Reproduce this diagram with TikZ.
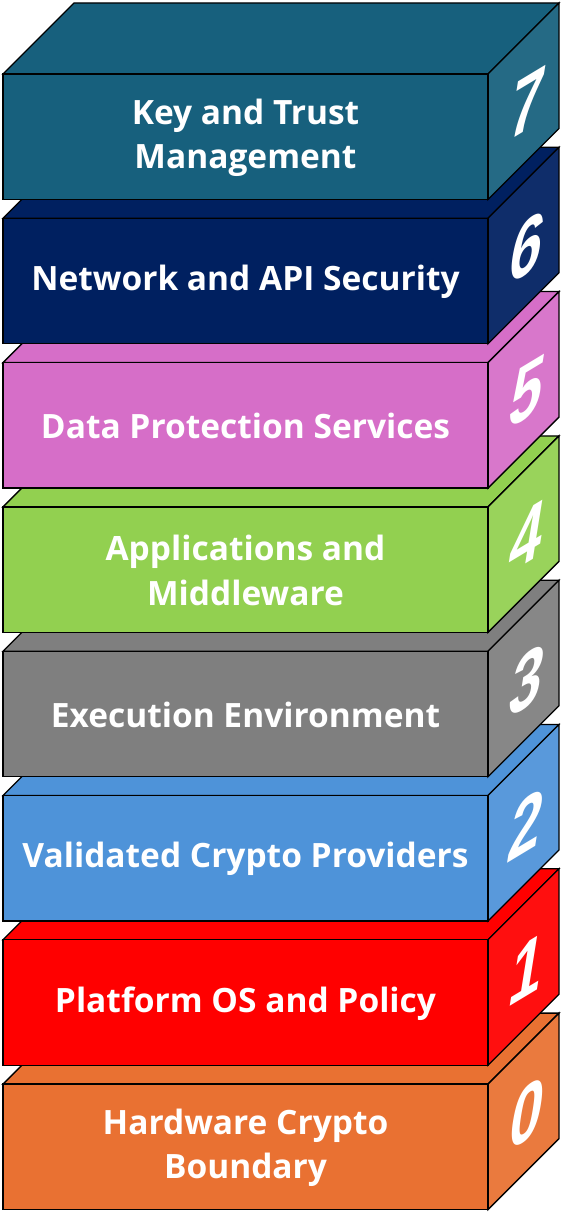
\documentclass[tikz,border=0pt]{standalone}
\usepackage{fontspec}
\setmainfont{Open Sans}
\setsansfont{Liberation Sans}
\definecolor{c7}{HTML}{17607D}
\definecolor{c6}{HTML}{002060}
\definecolor{c5}{HTML}{D66EC8}
\definecolor{c4}{HTML}{92D050}
\definecolor{c3}{HTML}{7F7F7F}
\definecolor{c2}{HTML}{4E93D9}
\definecolor{c1}{HTML}{FF0000}
\definecolor{c0}{HTML}{E97132}
\tikzset{
  face/.style={draw=black, line width=1.3pt, line join=miter},
  lbl/.style={text=white, font=\fontsize{33.5}{44.5}\selectfont\bfseries, align=center, inner sep=0pt},
  num/.style={text=white, font=\fontsize{86}{86}\selectfont\sffamily\bfseries, inner sep=0pt, transform shape}
}
\begin{document}
\begin{tikzpicture}[x=1pt,y=-1pt]
\useasboundingbox (0,0) rectangle (562,1214);
\def\L{3}
\def\R{488}
\def\D{71}
\def\H{125.5}
\foreach \k/\col/\txt in {
  0/c0/{Hardware Crypto\\Boundary},
  1/c1/{Platform OS and Policy},
  2/c2/{Validated Crypto Providers},
  3/c3/{Execution Environment},
  4/c4/{Applications and\\Middleware},
  5/c5/{Data Protection Services},
  6/c6/{Network and API Security},
  7/c7/{Key and Trust\\Management}} {
  \pgfmathsetmacro\T{74+(7-\k)*144.3}
  \pgfmathsetmacro\B{\T+\H}
  % top face
  \filldraw[face, fill=\col] (\L,\T) -- (\L+\D,\T-\D) -- (\R+\D,\T-\D) -- (\R,\T) -- cycle;
  % side face
  \filldraw[face, fill=\col!94!white] (\R,\T) -- (\R+\D,\T-\D) -- (\R+\D,\B-\D) -- (\R,\B) -- cycle;
  % front face
  \filldraw[face, fill=\col] (\L,\T) rectangle (\R,\B);
  \node[lbl] (t\k) at ({(\L+\R)/2},{\T+\H/2+1}) {\txt};
  \node[num, cm={0.68,0.41,0.16,1,(527,{\T+\H/2-\D/2+2})}] (n\k) at (0,0) {\k};
}
\end{tikzpicture}
\end{document}
